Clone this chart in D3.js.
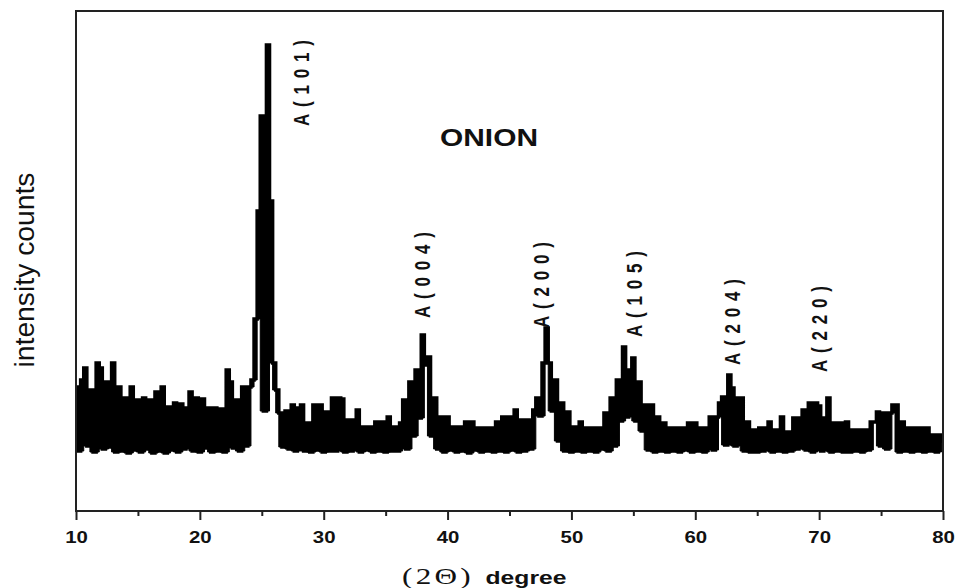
<!DOCTYPE html>
<html>
<head>
<meta charset="utf-8">
<script src="https://cdn.jsdelivr.net/npm/d3@7"></script>
<style>
    body { margin: 0; background: #fff; }
    svg { display: block; }
</style>
</head>
<body>
<svg id="canvas"></svg>
<script>
/** Main values */

// 2-theta grid of the scan: 10 to 80 degree, one reading per 0.25 degree
let startAngle = 10;
let stepAngle = 0.25;

// intensity counts (arbitrary units), 4 readings per degree
let counts = [
    248, 120, 262, 286,   // 10
    130, 242, 118, 296,   // 11
    286, 124, 258, 128,   // 12
    296, 118, 248, 120,   // 13
    226, 116, 248, 122,   // 14
    222, 118, 226, 124,   // 15
    222, 116, 238, 120,   // 16
    248, 116, 208, 122,   // 17
    216, 118, 214, 124,   // 18
    206, 238, 120, 226,   // 19
    118, 224, 126, 206,   // 20
    118, 206, 120, 204,   // 21
    118, 282, 258, 126,   // 22
    222, 120, 248, 130,   // 23
    248, 262, 384, 600,   // 24
    790, 200, 932, 620,   // 25
    296, 242, 196, 128,   // 26
    200, 124, 212, 120,   // 27
    206, 212, 120, 176,   // 28
    118, 212, 122, 212,   // 29
    118, 198, 120, 226,   // 30
    120, 226, 224, 118,   // 31
    182, 120, 182, 202,   // 32
    118, 168, 122, 168,   // 33
    118, 178, 120, 178,   // 34
    118, 188, 120, 168,   // 35
    120, 176, 222, 124,   // 36
    258, 150, 282, 186,   // 37
    352, 292, 308, 150,   // 38
    226, 124, 188, 118,   // 39
    188, 122, 168, 118,   // 40
    168, 120, 178, 116,   // 41
    178, 122, 166, 118,   // 42
    166, 120, 166, 118,   // 43
    178, 120, 188, 118,   // 44
    188, 122, 202, 118,   // 45
    182, 120, 182, 124,   // 46
    202, 226, 190, 296,   // 47
    366, 296, 200, 262,   // 48
    140, 216, 120, 198,   // 49
    118, 168, 120, 178,   // 50
    118, 166, 120, 166,   // 51
    118, 166, 124, 196,   // 52
    120, 226, 130, 262,   // 53
    180, 328, 188, 282,   // 54
    306, 180, 258, 160,   // 55
    212, 122, 212, 118,   // 56
    188, 120, 176, 118,   // 57
    166, 120, 166, 118,   // 58
    166, 122, 176, 118,   // 59
    176, 120, 166, 118,   // 60
    166, 188, 122, 188,   // 61
    216, 228, 132, 272,   // 62
    246, 130, 226, 226,   // 63
    120, 178, 118, 162,   // 64
    118, 166, 120, 166,   // 65
    178, 118, 162, 120,   // 66
    188, 118, 158, 120,   // 67
    186, 124, 186, 202,   // 68
    122, 216, 118, 216,   // 69
    210, 120, 186, 226,   // 70
    118, 176, 120, 176,   // 71
    118, 178, 118, 162,   // 72
    120, 162, 118, 162,   // 73
    122, 178, 178, 198,   // 74
    130, 196, 124, 196,   // 75
    212, 212, 118, 178,   // 76
    120, 166, 118, 166,   // 77
    120, 166, 118, 166,   // 78
    120, 152, 118, 152,   // 79
    140                   // 80
];

// peak labels (anatase planes): angle of the label and the count where it starts
let peakNames  = ['A(101)', 'A(004)', 'A(200)', 'A(105)', 'A(204)', 'A(220)'];
let peakAngles = [28.8,     38.6,     48.2,     55.7,     63.6,     70.6];
let peakCounts = [770,      386,      366,      348,      292,      278];

let majorTicks = [10, 20, 30, 40, 50, 60, 70, 80];
let minorTicks = [15, 25, 35, 45, 55, 65, 75];

let title = 'ONION';
let xTitleSymbol = '(2\u0398)';
let xTitleWord = 'degree';
let yTitle = 'intensity counts';

let width = 957;
let height = 588;
let plotLeft = 76;
let plotRight = 943;
let plotTop = 11;
let plotBottom = 511;

let xScale;
let yScale;

let canvas = d3.select('#canvas');

/** Canvas size */
const drawCanvas = () => {
    canvas.attr('width', width);
    canvas.attr('height', height);
};

/** Scales */
const generateScale = () => {
    xScale = d3.scaleLinear()
        .domain([10, 80])
        .range([plotLeft, plotRight]);

    yScale = d3.scaleLinear()
        .domain([0, 1000])
        .range([plotBottom, plotTop]);
};

/** The scan: each step filled between its neighbours (dense scan look), stepped line on top */
const drawLine = () => {
    let points = counts.map((c, i) => {
        let prev = counts[Math.max(i - 1, 0)];
        let next = counts[Math.min(i + 1, counts.length - 1)];
        return {
            angle: startAngle + i * stepAngle,
            count: c,
            low: Math.min(prev, c, next),
            high: Math.max(c, Math.min(prev, next))
        };
    });

    let band = d3.area()
        .x((d) => xScale(d.angle))
        .y0((d) => yScale(d.low))
        .y1((d) => yScale(d.high))
        .curve(d3.curveStep);

    let line = d3.line()
        .x((d) => xScale(d.angle))
        .y((d) => yScale(d.count))
        .curve(d3.curveStep);

    canvas.append('path')
        .datum(points)
        .attr('d', band)
        .attr('fill', '#000')
        .attr('stroke', '#000')
        .attr('stroke-width', 1);

    canvas.append('path')
        .datum(points)
        .attr('d', line)
        .attr('fill', 'none')
        .attr('stroke', '#000')
        .attr('stroke-width', 3.5)
        .attr('stroke-linejoin', 'miter');
};

/** Frame, ticks and axis texts */
const drawAxes = () => {
    let xAxis = d3.axisBottom(xScale)
        .tickValues(majorTicks)
        .tickSize(9)
        .tickFormat(d3.format('d'));

    let xMinor = d3.axisBottom(xScale)
        .tickValues(minorTicks)
        .tickSize(5)
        .tickFormat('');

    let gMinor = canvas.append('g')
        .attr('transform', `translate(0, ${plotBottom})`)
        .call(xMinor);
    gMinor.select('.domain').remove();
    gMinor.selectAll('line').attr('stroke', '#222').attr('stroke-width', 2);

    let gx = canvas.append('g')
        .attr('id', 'x-axis')
        .attr('transform', `translate(0, ${plotBottom})`)
        .call(xAxis);
    gx.select('.domain').remove();
    gx.selectAll('line').attr('stroke', '#222').attr('stroke-width', 2);
    gx.selectAll('text')
        .attr('y', 32)
        .attr('dy', null)
        .attr('transform', 'scale(1.2, 1)')
        .style('font-family', 'Liberation Sans, Arial, sans-serif')
        .style('font-weight', 'bold')
        .style('font-size', '17px')
        .attr('fill', '#111');

    // frame round the plot
    canvas.append('rect')
        .attr('x', plotLeft)
        .attr('y', plotTop)
        .attr('width', plotRight - plotLeft)
        .attr('height', plotBottom - plotTop)
        .attr('fill', 'none')
        .attr('stroke', '#222')
        .attr('stroke-width', 2);

    // x title: serif symbol then bold word
    canvas.append('text')
        .attr('transform', 'translate(438, 584) scale(1.3, 1)')
        .attr('text-anchor', 'middle')
        .style('font-family', 'Liberation Serif, Times New Roman, serif')
        .style('font-size', '24px')
        .style('letter-spacing', '2.5px')
        .attr('fill', '#111')
        .text(xTitleSymbol);

    canvas.append('text')
        .attr('transform', 'translate(526, 584) scale(1.3, 1)')
        .attr('text-anchor', 'middle')
        .style('font-family', 'Liberation Sans, Arial, sans-serif')
        .style('font-weight', 'bold')
        .style('font-size', '19px')
        .attr('fill', '#111')
        .text(xTitleWord);

    // y title
    canvas.append('text')
        .attr('transform', 'translate(34, 270) rotate(-90) scale(1, 1.25)')
        .attr('text-anchor', 'middle')
        .attr('textLength', 195)
        .attr('lengthAdjust', 'spacingAndGlyphs')
        .style('font-family', 'Liberation Sans, Arial, sans-serif')
        .style('font-size', '22px')
        .attr('fill', '#111')
        .text(yTitle);

    // chart title
    canvas.append('text')
        .attr('transform', 'translate(489, 146) scale(1.3, 1)')
        .attr('text-anchor', 'middle')
        .style('font-family', 'Liberation Sans, Arial, sans-serif')
        .style('font-weight', 'bold')
        .style('font-size', '23px')
        .attr('fill', '#111')
        .text(title);
};

/** Rotated labels over the peaks */
const drawLabels = () => {
    canvas.selectAll('.peak-label')
        .data(peakNames)
        .enter()
        .append('text')
        .attr('class', 'peak-label')
        .attr('transform', (d, i) => {
            let x = xScale(peakAngles[i]);
            let y = yScale(peakCounts[i]);
            return `translate(${x}, ${y}) rotate(-90) scale(1, 1.35)`;
        })
        .attr('textLength', 86)
        .attr('lengthAdjust', 'spacing')
        .style('font-family', 'Liberation Sans, Arial, sans-serif')
        .style('font-weight', 'bold')
        .style('font-size', '17px')
        .attr('fill', '#111')
        .text((d) => d);
};

drawCanvas();
generateScale();
drawLine();
drawAxes();
drawLabels();
</script>
</body>
</html>
